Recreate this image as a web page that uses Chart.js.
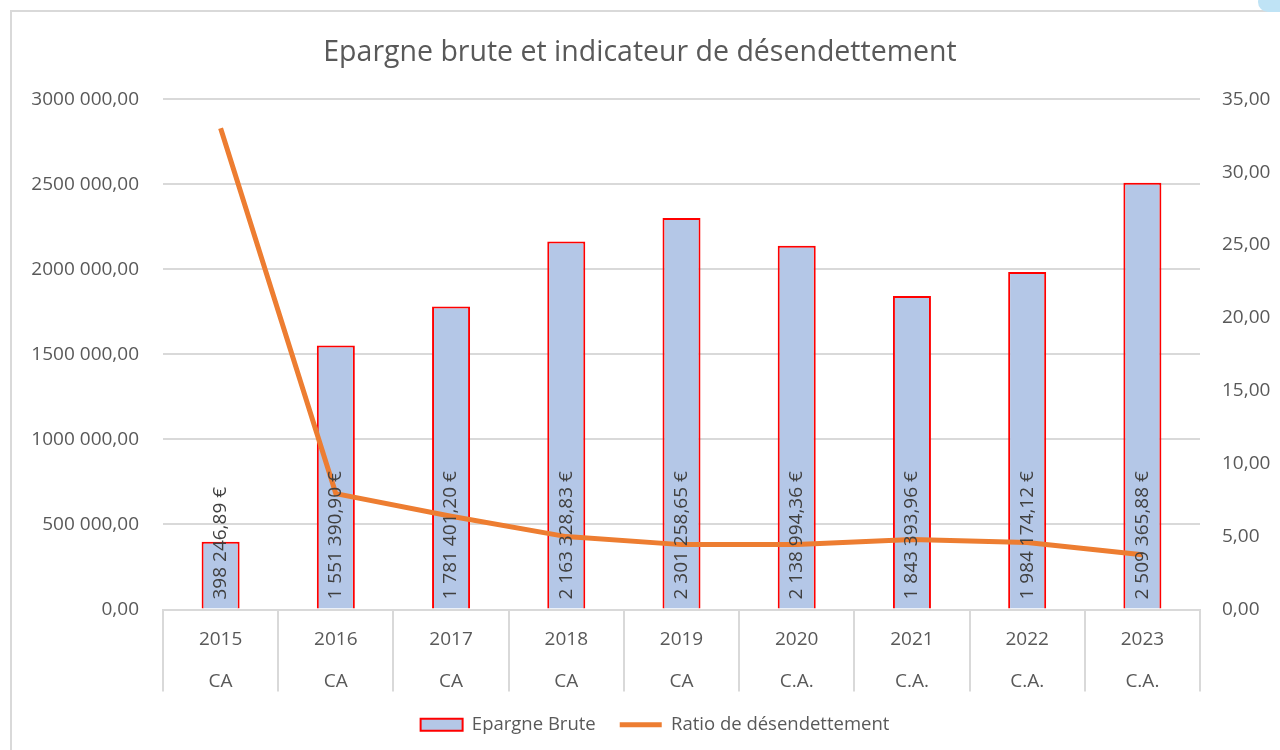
<!DOCTYPE html>
<html>
<head>
<meta charset="utf-8">
<script src="https://cdn.jsdelivr.net/npm/chart.js@4.4.0/dist/chart.umd.min.js"></script>
<style>
    html, body { margin: 0; padding: 0; background: #fff; }
    #cadre { position: absolute; left: 10px; top: 10px; width: 1300px; height: 800px;
             border-left: 2px solid #d9d9d9; border-top: 2px solid #d9d9d9; }
    #bulle { position: absolute; left: 1258px; top: -8px; width: 40px; height: 20px;
             border-radius: 10px; background: #bfe3f5; }
    #zone { position: absolute; left: 0; top: 0; width: 1280px; height: 750px; }
</style>
</head>
<body>
<div id="cadre"></div>
<div id="bulle"></div>
<div id="zone"><canvas id="graphique" width="1280" height="750"></canvas></div>
<script>
    // Données
    const annees = ['2015', '2016', '2017', '2018', '2019', '2020', '2021', '2022', '2023'];
    const documents = ['CA', 'CA', 'CA', 'CA', 'CA', 'C.A.', 'C.A.', 'C.A.', 'C.A.'];
    const epargneBrute = [398246.89, 1551390.90, 1781401.20, 2163328.83, 2301258.65, 2138994.36, 1843393.96, 1984174.12, 2509365.88];
    const ratioDesendettement = [33.0, 7.95, 6.4, 5.0, 4.45, 4.45, 4.8, 4.6, 3.75];

    const gris = '#595959';
    const police = 'Open Sans, sans-serif';

    // format "1 551 390,90"
    function formatNombre(v, grouperMillions) {
        const parts = v.toFixed(2).split('.');
        let ent = parts[0].replace(/\B(?=(\d{3})+(?!\d))/g, ' ');
        if (grouperMillions === false) {
            ent = ent.replace(/^(\d) (\d{3} \d{3})$/, '$1$2');
        }
        return ent + ',' + parts[1];
    }

    // étiquettes verticales dans les barres
    const etiquettesBarres = {
        id: 'etiquettesBarres',
        afterDatasetsDraw(chart) {
            const ctx = chart.ctx;
            const meta = chart.getDatasetMeta(1);
            ctx.save();
            ctx.font = '19px ' + police;
            ctx.fillStyle = '#404040';
            ctx.textAlign = 'left';
            ctx.textBaseline = 'middle';
            meta.data.forEach((bar, i) => {
                ctx.save();
                ctx.translate(bar.x, chart.chartArea.bottom - 10);
                ctx.rotate(-Math.PI / 2);
                ctx.fillText(formatNombre(epargneBrute[i]) + ' €', 0, 0);
                ctx.restore();
            });
            ctx.restore();
        }
    };

    // décale la légende comme dans l'original
    const decaleLegende = {
        id: 'decaleLegende',
        afterLayout(chart) {
            chart.legend.left += 15;
            chart.legend.right += 15;
        }
    };

    const ctx = document.getElementById('graphique').getContext('2d');
    new Chart(ctx, {
        data: {
            labels: annees.map((a, i) => [a, documents[i]]),
            datasets: [
                {
                    type: 'line',
                    label: 'Ratio de désendettement',
                    data: ratioDesendettement,
                    yAxisID: 'yRatio',
                    borderColor: '#ED7D31',
                    backgroundColor: '#ED7D31',
                    borderWidth: 5,
                    pointRadius: 0,
                    tension: 0,
                    pointStyle: 'line',
                    order: 0
                },
                {
                    type: 'bar',
                    label: 'Epargne Brute',
                    data: epargneBrute,
                    yAxisID: 'y',
                    backgroundColor: '#B4C7E7',
                    borderColor: '#FF0000',
                    borderWidth: 2,
                    categoryPercentage: 1,
                    barPercentage: 0.33,
                    pointStyle: 'rect',
                    order: 1
                }
            ]
        },
        options: {
            responsive: false,
            animation: false,
            layout: { padding: { left: 0, right: 0, top: 0, bottom: 6 } },
            plugins: {
                title: {
                    display: true,
                    text: 'Epargne brute et indicateur de désendettement',
                    color: gris,
                    font: { family: police, size: 28.5, weight: 'normal' },
                    padding: { top: 36, bottom: 29 }
                },
                legend: {
                    position: 'bottom',
                    reverse: true,
                    labels: {
                        usePointStyle: true,
                        pointStyleWidth: 42,
                        boxHeight: 12,
                        color: gris,
                        font: { family: police, size: 18.5 },
                        padding: 24
                    }
                },
                tooltip: { enabled: false }
            },
            scales: {
                x: {
                    offset: true,
                    grid: {
                        offset: true,
                        drawOnChartArea: false,
                        tickLength: 82,
                        color: '#d9d9d9',
                        lineWidth: 2
                    },
                    border: { color: '#d9d9d9', width: 2 },
                    ticks: {
                        color: gris,
                        font: { family: police, size: 19, lineHeight: 2.2 },
                        padding: -73,
                        maxRotation: 0
                    },
                    afterFit(scale) { scale.height = 82; }
                },
                y: {
                    position: 'left',
                    min: 0,
                    max: 3000000,
                    ticks: {
                        stepSize: 500000,
                        color: gris,
                        padding: 24,
                        font: { family: police, size: 19 },
                        callback: v => formatNombre(v, false)
                    },
                    grid: { color: '#d9d9d9', lineWidth: 2, drawTicks: false },
                    border: { display: false },
                    afterFit(scale) { scale.width = 163; }
                },
                yRatio: {
                    position: 'right',
                    min: 0,
                    max: 35,
                    ticks: {
                        stepSize: 5,
                        color: gris,
                        padding: 22,
                        font: { family: police, size: 19 },
                        callback: v => v.toFixed(2).replace('.', ',')
                    },
                    grid: { drawOnChartArea: false, drawTicks: false },
                    border: { display: false },
                    afterFit(scale) { scale.width = 80; }
                }
            }
        },
        plugins: [etiquettesBarres, decaleLegende]
    });
</script>
</body>
</html>
